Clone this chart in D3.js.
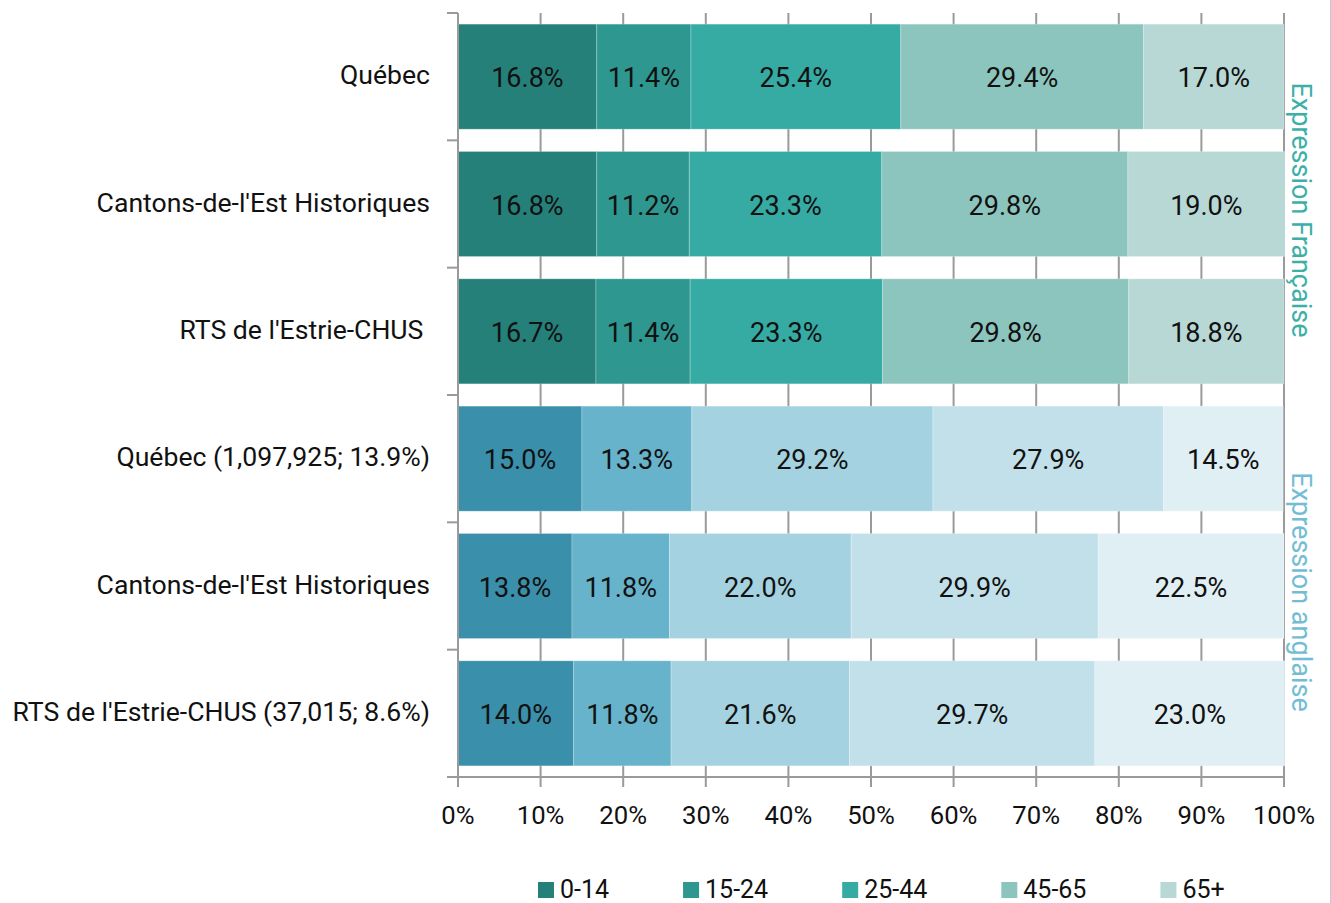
<!DOCTYPE html>
<html>
<head>
<meta charset="utf-8">
<script src="https://cdn.jsdelivr.net/npm/d3@7/dist/d3.min.js"></script>
<style>
  html, body { margin: 0; padding: 0; background: #fff; }
  svg { display: block; font-family: Roboto, "Noto Sans", sans-serif; }
</style>
</head>
<body>
<svg id="chart" width="1331" height="903"></svg>
<script>
// ---- Data ----
const categoryIds = ["fr_qc", "fr_ce", "fr_rts", "en_qc", "en_ce", "en_rts"];
const categoryLabels = ["Québec", "Cantons-de-l'Est Historiques", "RTS de l'Estrie-CHUS ",
  "Québec (1,097,925; 13.9%)", "Cantons-de-l'Est Historiques", "RTS de l'Estrie-CHUS (37,015; 8.6%)"];
const categoryGroup = ["fr", "fr", "fr", "en", "en", "en"];
const ageGroups = ["0-14", "15-24", "25-44", "45-65", "65+"];
const values = [
  [16.8, 11.4, 25.4, 29.4, 17.0],
  [16.8, 11.2, 23.3, 29.8, 19.0],
  [16.7, 11.4, 23.3, 29.8, 18.8],
  [15.0, 13.3, 29.2, 27.9, 14.5],
  [13.8, 11.8, 22.0, 29.9, 22.5],
  [14.0, 11.8, 21.6, 29.7, 23.0]
];
const groupLabels = { fr: "Expression Française", en: "Expression anglaise" };
const xTicks = [0, 10, 20, 30, 40, 50, 60, 70, 80, 90, 100];

// ---- Styles ----
const colorsFr = ["#25807a", "#2d9790", "#35aba4", "#8cc5bd", "#b8d8d5"];
const colorsEn = ["#3a8fab", "#66b3cb", "#a4d2e0", "#c2e0ea", "#e0eff4"];
const groupTextColor = { fr: "#3cb0a7", en: "#72bdd3" };
const axisColor = "#9a9a9a";

const svg = d3.select("#chart");
const x = d3.scaleLinear().domain([0, 100]).range([458, 1284]);
const y = d3.scaleBand().domain(categoryIds).range([13, 777]).paddingInner(0.175).paddingOuter(0.0875);
const step = y.step();
const yTop = y.range()[0], yBot = y.range()[1];

// gridlines
svg.append("g").selectAll("line").data(xTicks).join("line")
  .attr("x1", d => x(d)).attr("x2", d => x(d))
  .attr("y1", yTop).attr("y2", yBot)
  .attr("stroke", axisColor).attr("stroke-width", 2);

// bars
const rows = categoryIds.map((id, i) => {
  let cum = 0;
  return values[i].map((v, j) => {
    const s = { id, j, v, x0: cum, x1: cum + v, group: categoryGroup[i] };
    cum += v;
    return s;
  });
}).flat();

const barG = svg.append("g");
barG.selectAll("rect").data(rows).join("rect")
  .attr("x", d => x(d.x0))
  .attr("y", d => y(d.id))
  .attr("width", d => x(d.x1) - x(d.x0))
  .attr("height", y.bandwidth())
  .attr("fill", d => (d.group === "fr" ? colorsFr : colorsEn)[d.j])
  .attr("stroke", "rgba(255,255,255,0.25)").attr("stroke-width", 1);

barG.selectAll("text").data(rows).join("text")
  .attr("x", d => (x(d.x0) + x(d.x1)) / 2)
  .attr("y", d => y(d.id) + y.bandwidth() / 2 + 1)
  .attr("dy", "0.36em")
  .attr("text-anchor", "middle")
  .attr("font-size", 27)
  .attr("fill", "#111")
  .text(d => d.v.toFixed(1) + "%");

// y axis
const yAxisG = svg.append("g");
yAxisG.append("line").attr("x1", x(0)).attr("x2", x(0)).attr("y1", yTop).attr("y2", yBot)
  .attr("stroke", axisColor).attr("stroke-width", 2);
yAxisG.selectAll("line.tick").data(d3.range(categoryIds.length + 1)).join("line")
  .attr("class", "tick")
  .attr("x1", x(0) - 11).attr("x2", x(0))
  .attr("y1", i => yTop + i * step).attr("y2", i => yTop + i * step)
  .attr("stroke", axisColor).attr("stroke-width", 2);
yAxisG.selectAll("text").data(categoryIds).join("text")
  .attr("x", 430)
  .attr("y", d => y(d) + y.bandwidth() / 2 - 2)
  .attr("dy", "0.36em")
  .attr("text-anchor", "end")
  .attr("font-size", 26.6)
  .attr("fill", "#111")
  .style("white-space", "pre")
  .text((d, i) => categoryLabels[i]);

// x axis
const xAxisG = svg.append("g");
xAxisG.append("line").attr("x1", x(0) - 10).attr("x2", x(100)).attr("y1", yBot).attr("y2", yBot)
  .attr("stroke", axisColor).attr("stroke-width", 2);
xAxisG.selectAll("line.tick").data(xTicks).join("line")
  .attr("class", "tick")
  .attr("x1", d => x(d)).attr("x2", d => x(d))
  .attr("y1", yBot).attr("y2", yBot + 10)
  .attr("stroke", axisColor).attr("stroke-width", 2);
xAxisG.selectAll("text").data(xTicks).join("text")
  .attr("x", d => x(d))
  .attr("y", 815)
  .attr("dy", "0.36em")
  .attr("text-anchor", "middle")
  .attr("font-size", 25.7)
  .attr("fill", "#111")
  .text(d => d + "%");

// group labels on right
["fr", "en"].forEach(g => {
  const ids = categoryIds.filter((id, i) => categoryGroup[i] === g);
  const top = y(ids[0]) - step * y.paddingInner() / 2;
  const bot = y(ids[ids.length - 1]) + y.bandwidth() + step * y.paddingInner() / 2;
  const cy = (top + bot) / 2 + 6;
  svg.append("text")
    .attr("transform", `translate(1302,${cy}) rotate(90)`)
    .attr("text-anchor", "middle")
    .attr("dy", "0.36em")
    .attr("font-size", 27)
    .attr("fill", groupTextColor[g])
    .text(groupLabels[g]);
});

// legend
const legend = svg.append("g");
let lx = 538;
ageGroups.forEach((a, i) => {
  legend.append("rect").attr("x", lx).attr("y", 882).attr("width", 16).attr("height", 16)
    .attr("fill", colorsFr[i]);
  const t = legend.append("text").attr("x", lx + 22).attr("y", 889).attr("dy", "0.35em")
    .attr("font-size", 25).attr("fill", "#111").text(a);
  lx += 22 + t.node().getComputedTextLength() + 74;
});

// right border line
svg.append("line").attr("x1", 1330.5).attr("x2", 1330.5).attr("y1", 0).attr("y2", 903)
  .attr("stroke", "#c8c8c8").attr("stroke-width", 1);
</script>
</body>
</html>
